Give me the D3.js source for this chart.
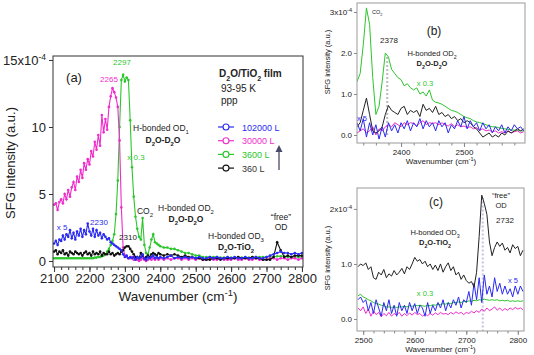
<!DOCTYPE html>
<html>
<head>
<meta charset="utf-8">
<script src="https://d3js.org/d3.v7.min.js"></script>
<style>
body{margin:0;background:#fff;}
svg text{font-family:"Liberation Sans",Arial,sans-serif;}
</style>
</head>
<body>
<svg id="fig"></svg>
<script>

// ---------- data (SFG intensity in units of 1e-4) ----------
var waveA = d3.range(2100, 2400, 5).concat(d3.range(2400, 2801, 10));

var pinkA = [4.2,4.3,3.8,4.4,4.6,4.3,5.0,4.6,5.3,4.8,
  5.5,5.9,5.3,6.3,5.9,6.8,6.2,7.3,6.8,7.6,
  7.2,8.2,7.8,8.9,8.3,9.4,8.6,10.9,9.6,10.6,
  9.8,11.5,12.3,12.9,12.6,12.2,11.5,9.0,4.0,1.0,
  0.4,0.3,0.2,0.2,0.3,0.1,0.2,0.1,0.0,0.1,
  0.2,0.1,0.0,0.1,0.2,0.1,0.2,0.1,0.2,0.1,
  0.2,0.1,0.2,0.1,0.2,0.2,0.1,0.2,0.1,0.2,
  0.1,0.2,0.1,0.1,0.2,0.1,0.1,0.2,0.1,0.1,
  0.1,0.2,0.1,0.1,0.2,0.1,0.1,0.2,0.1,0.1,
  0.1,0.2,0.2,0.1,0.2,0.2,0.1,0.2,0.2,0.1,0.2];

var greenA = [0.2,0.2,0.2,0.2,0.2,0.2,0.2,0.2,0.2,0.2,
  0.2,0.2,0.2,0.2,0.2,0.2,0.2,0.2,0.2,0.2,
  0.2,0.2,0.2,0.25,0.25,0.3,0.3,0.35,0.4,0.5,
  0.7,0.9,1.2,1.5,2.0,3.5,6.0,10.0,13.5,13.9,
  13.4,13.7,13.5,10.5,7.0,4.8,3.3,2.4,1.8,1.6,
  3.2,1.2,0.6,0.5,1.0,1.6,2.0,1.4,1.3,1.2,
  1.1,1.0,1.0,0.9,0.9,0.8,0.7,0.6,0.6,0.5,
  0.4,0.4,0.3,0.3,0.3,0.3,0.3,0.25,0.25,0.25,
  0.25,0.25,0.25,0.25,0.25,0.25,0.25,0.3,0.3,0.3,
  0.3,0.3,0.3,0.35,0.35,0.35,0.3,0.3,0.3,0.3,0.3];

var blueA = [1.3,1.5,1.2,1.6,1.5,1.9,1.6,2.0,1.8,2.3,
  1.7,2.1,1.6,2.2,1.9,2.4,1.8,2.3,2.0,2.8,
  2.2,1.9,2.4,1.8,2.3,1.9,2.1,1.7,2.0,1.8,
  1.6,1.7,1.4,1.3,1.2,1.1,1.0,0.9,0.8,0.5,
  0.3,0.4,0.2,0.3,0.2,0.3,0.1,0.3,0.2,0.3,
  0.5,0.2,0.1,0.3,0.2,0.3,0.4,0.2,0.3,0.2,
  0.3,0.2,0.3,0.4,0.2,0.3,0.2,0.3,0.2,0.3,
  0.2,0.3,0.2,0.2,0.3,0.2,0.3,0.2,0.2,0.3,
  0.2,0.3,0.2,0.2,0.3,0.2,0.2,0.3,0.2,0.2,
  0.3,0.4,0.5,0.6,0.7,0.6,0.6,0.5,0.6,0.5,0.6];

var blackA = [0.7,0.8,0.5,0.7,0.6,0.8,0.5,0.6,0.4,0.7,
  0.6,0.5,0.7,0.6,0.5,0.6,0.4,0.6,0.7,0.5,
  0.6,0.4,0.7,0.5,0.6,0.5,0.7,0.4,0.6,0.5,
  0.5,0.7,0.5,0.6,0.4,0.5,0.6,0.5,0.7,0.8,
  1.0,1.1,1.1,0.9,0.7,0.5,0.3,0.3,0.2,0.6,
  0.4,0.2,0.3,0.4,0.3,0.5,0.6,0.5,0.4,0.6,
  0.5,0.4,0.5,0.4,0.5,0.4,0.3,0.4,0.3,0.3,
  0.2,0.2,0.1,0.1,0.1,0.2,0.2,0.1,0.2,0.2,
  0.2,0.2,0.3,0.2,0.2,0.2,0.3,0.2,0.2,0.1,
  0.1,0.1,0.3,1.4,0.8,0.3,0.4,0.3,0.4,0.4,0.4];

var waveB = d3.range(2330, 2596, 5);
var greenB = [1.3,1.5,2.2,3.1,2.7,1.4,0.5,0.7,1.3,2.0,
  1.9,1.6,1.5,1.4,1.35,1.2,1.25,1.15,1.1,1.15,
  1.0,1.05,0.95,1.1,0.85,0.8,0.78,0.75,0.7,0.65,
  0.6,0.58,0.55,0.5,0.45,0.42,0.4,0.35,0.32,0.3,
  0.28,0.25,0.22,0.2,0.2,0.18,0.16,0.15,0.14,0.12,
  0.12,0.11,0.1,0.1];
var blackB = [0.2,0.3,0.6,0.9,0.5,0.1,0.05,0.1,0.2,0.5,
  0.72,0.6,0.55,0.5,0.65,0.7,0.5,0.6,0.55,0.6,
  0.45,0.75,0.6,0.65,0.55,0.7,0.5,0.55,0.45,0.5,
  0.4,0.45,0.35,0.4,0.3,0.35,0.3,0.2,0.15,0.05,
  -0.05,0.0,0.05,-0.05,0.0,-0.05,0.05,0.0,0.1,0.05,
  0.1,0.15,0.1,0.15];
var pinkB = [0.05,0.1,0.15,0.05,0.1,0.2,0.0,0.15,0.1,0.2,
  0.25,0.2,0.3,0.25,0.2,0.3,0.25,0.3,0.28,0.22,
  0.3,0.35,0.25,0.3,0.28,0.3,0.25,0.3,0.25,0.22,
  0.28,0.2,0.25,0.2,0.22,0.18,0.2,0.15,0.18,0.12,
  0.15,0.1,0.12,0.08,0.1,0.05,0.08,0.05,0.1,0.05,
  0.08,0.1,0.05,0.08];
var blueB = [0.3,0.1,0.4,-0.05,0.3,0.0,0.25,-0.1,0.2,-0.05,
  0.3,0.1,0.25,0.05,0.3,0.15,0.35,0.1,0.3,0.2,
  0.4,0.15,0.35,0.2,0.3,0.1,0.35,0.2,0.3,0.05,
  0.25,0.15,0.35,0.2,0.45,0.15,0.35,0.2,0.3,0.1,
  0.3,0.15,0.25,0.05,0.2,0.1,0.25,0.05,0.2,0.1,
  0.25,0.15,0.2,0.1];

var waveC = d3.range(2490, 2811, 5);
var blackC = [0.95,1.0,0.97,1.02,0.9,0.95,0.75,0.72,0.85,0.8,
  0.9,0.75,0.82,0.78,0.88,0.8,0.85,0.92,0.82,0.95,
  0.9,1.0,1.12,1.05,1.08,1.0,1.05,0.95,1.0,0.9,
  0.98,0.88,1.0,0.85,0.95,1.02,0.88,0.95,0.8,0.85,
  0.72,0.8,0.7,0.65,0.68,0.58,0.85,1.5,2.25,2.1,
  1.9,1.4,1.15,1.3,1.4,1.32,1.38,1.25,1.3,1.2,
  1.35,1.28,1.32,1.15,1.25];
var greenC = [0.42,0.45,0.4,0.38,0.35,0.33,0.3,0.28,0.27,0.25,
  0.24,0.22,0.22,0.21,0.22,0.21,0.22,0.22,0.23,0.22,
  0.24,0.23,0.25,0.24,0.25,0.24,0.23,0.25,0.24,0.26,
  0.25,0.27,0.26,0.28,0.27,0.29,0.28,0.3,0.3,0.31,
  0.3,0.32,0.31,0.33,0.32,0.34,0.33,0.35,0.34,0.36,
  0.35,0.34,0.35,0.34,0.35,0.33,0.34,0.33,0.34,0.32,
  0.33,0.32,0.33,0.32,0.33];
var pinkC = [0.2,0.15,0.22,0.1,0.18,0.05,0.15,0.08,0.12,0.04,
  0.1,0.06,0.12,0.05,0.1,0.07,0.12,0.05,0.1,0.06,
  0.11,0.07,0.12,0.08,0.1,0.05,0.09,0.06,0.1,0.07,
  0.11,0.08,0.12,0.09,0.1,0.08,0.12,0.09,0.13,0.1,
  0.12,0.08,0.12,0.1,0.14,0.11,0.15,0.12,0.18,0.14,
  0.2,0.15,0.18,0.22,0.16,0.2,0.15,0.19,0.16,0.2,
  0.17,0.21,0.18,0.2,0.17];
var blueC = [0.35,0.4,0.3,0.35,0.15,0.3,0.1,0.35,0.2,0.05,
  0.3,0.15,0.35,0.1,0.25,0.05,0.3,0.15,0.25,0.1,
  0.3,0.15,0.28,0.1,0.25,0.2,0.05,0.3,0.1,0.25,
  0.15,0.3,0.2,0.35,0.15,0.3,0.2,0.35,0.25,0.4,
  0.2,0.35,0.3,0.5,0.25,0.65,0.35,0.75,0.3,0.8,
  0.45,0.6,0.4,0.75,0.5,0.65,0.45,0.6,0.45,0.55,
  0.4,0.6,0.45,0.6,0.5];

var legendLabels = ["102000 L", "30000 L", "3600 L", "360 L"];
var colors = {blue:"#2a2af0", pink:"#f02ccc", green:"#2cc62c", black:"#111"};

// ---------- svg ----------
var svg = d3.select("#fig").attr("width", 534).attr("height", 355);

var rich = function(g, x, y, parts, o) {
  var t = g.append("text").attr("x", x).attr("y", y)
    .attr("text-anchor", o.anchor || "start")
    .attr("font-size", o.size)
    .attr("font-weight", o.bold ? "bold" : "normal")
    .attr("fill", o.color || "#222");
  parts.forEach(function(p) {
    var s = t.append("tspan").text(p[0]);
    if (p[1] == "sub") s.attr("baseline-shift", "sub").attr("font-size", o.size * 0.7);
    if (p[1] == "sup") s.attr("baseline-shift", "super").attr("font-size", o.size * 0.7);
  });
  return t;
};

var drawSeries = function(g, wave, vals, x, y, color, width, dots) {
  var pts = wave.map(function(w, i) { return [w, vals[i]]; });
  var line = d3.line().x(function(d) { return x(d[0]); }).y(function(d) { return y(d[1]); });
  g.append("path").datum(pts)
    .attr("fill", "none").attr("stroke", color).attr("stroke-width", width)
    .attr("d", line);
  if (dots) {
    g.selectAll(null).data(pts).enter().append("circle")
      .attr("cx", function(d) { return x(d[0]); })
      .attr("cy", function(d) { return y(d[1]); })
      .attr("r", 1.3).attr("fill", color);
  }
};

var styleAxis = function(a, color, size) {
  a.select(".domain").remove();
  a.selectAll("line").attr("stroke", color);
  a.selectAll("text").attr("fill", "#222").attr("font-size", size)
    .attr("font-family", "Liberation Sans, Arial, sans-serif");
};

// ================= panel (a) =================
var xA = d3.scaleLinear().domain([2097, 2803]).range([53, 303]);
var yA = d3.scaleLinear().domain([-0.45, 15.3]).range([267, 56]);
var pa = svg.append("g");

svg.append("clipPath").attr("id", "clipA").append("rect")
  .attr("x", 53).attr("y", 56).attr("width", 250).attr("height", 211);

var serA = pa.append("g").attr("clip-path", "url(#clipA)");
drawSeries(serA, waveA, greenA, xA, yA, colors.green, 1.1, true);
drawSeries(serA, waveA, pinkA, xA, yA, colors.pink, 1.1, true);
drawSeries(serA, waveA, blackA, xA, yA, colors.black, 1.1, true);
drawSeries(serA, waveA, blueA, xA, yA, colors.blue, 1.1, true);

pa.append("rect").attr("x", 53).attr("y", 56).attr("width", 250).attr("height", 211)
  .attr("fill", "none").attr("stroke", "#333").attr("stroke-width", 1);

var axA = pa.append("g").attr("transform", "translate(0,267)")
  .call(d3.axisBottom(xA).tickValues(d3.range(2100, 2801, 100)).tickSize(5).tickPadding(2).tickFormat(d3.format("d")));
styleAxis(axA, "#333", 13);
var axA2 = pa.append("g").attr("transform", "translate(0,267)")
  .call(d3.axisBottom(xA).tickValues(d3.range(2100, 2801, 20)).tickSize(3).tickFormat(""));
styleAxis(axA2, "#333", 13);

var ayA = pa.append("g").attr("transform", "translate(53,0)")
  .call(d3.axisLeft(yA).tickValues([0, 5, 10, 15]).tickSize(4).tickPadding(3));
styleAxis(ayA, "#333", 13);
ayA.selectAll(".tick text").filter(function(d) { return d == 15; })
  .text("15x10").append("tspan").text("-4").attr("baseline-shift", "super").attr("font-size", 8.5);

rich(pa, 178, 301, [["Wavenumber (cm"], ["-1", "sup"], [")"]], {size: 13.5, anchor: "middle"});
pa.append("text").attr("transform", "translate(15,163) rotate(-90)")
  .attr("text-anchor", "middle").attr("font-size", 13).attr("fill", "#222")
  .text("SFG intensity (a.u.)");

// annotations
rich(pa, 74, 82, [["(a)"]], {size: 13, anchor: "middle"});
rich(pa, 122, 65, [["2297"]], {size: 8, anchor: "middle", color: colors.green});
rich(pa, 109, 82, [["2265"]], {size: 8, anchor: "middle", color: colors.pink});
rich(pa, 161, 131, [["H-bonded OD"], ["1", "sub"]], {size: 8.5, anchor: "middle"});
rich(pa, 163, 143, [["D"], ["2", "sub"], ["O-D"], ["2", "sub"], ["O"]], {size: 8.5, anchor: "middle", bold: true});
rich(pa, 136, 160, [["x 0.3"]], {size: 8, anchor: "middle", color: colors.green});
rich(pa, 62, 230, [["x 5"]], {size: 8, anchor: "middle", color: colors.blue});
rich(pa, 99, 225, [["2230"]], {size: 8, anchor: "middle", color: colors.blue});
rich(pa, 128, 240, [["2310"]], {size: 8, anchor: "middle"});
rich(pa, 145, 214, [["CO"], ["2", "sub"]], {size: 8.5, anchor: "middle"});
rich(pa, 186, 211, [["H-bonded OD"], ["2", "sub"]], {size: 8.5, anchor: "middle"});
rich(pa, 186, 222, [["D"], ["2", "sub"], ["O-D"], ["2", "sub"], ["O"]], {size: 8.5, anchor: "middle", bold: true});
rich(pa, 236, 239, [["H-bonded OD"], ["3", "sub"]], {size: 8.5, anchor: "middle"});
rich(pa, 236, 250, [["D"], ["2", "sub"], ["O-TiO"], ["2", "sub"]], {size: 8.5, anchor: "middle", bold: true});
rich(pa, 281, 220, [["\u201Cfree\u201D"]], {size: 8.5, anchor: "middle"});
rich(pa, 281, 230, [["OD"]], {size: 8.5, anchor: "middle"});

// legend block
rich(pa, 219, 77, [["D"], ["2", "sub"], ["O/TiO"], ["2", "sub"], [" film"]], {size: 10, bold: true});
rich(pa, 221, 92, [["93-95 K"]], {size: 10});
rich(pa, 221, 104, [["ppp"]], {size: 10});

var legColors = [colors.blue, colors.pink, colors.green, colors.black];
var lg = pa.append("g").selectAll("g").data(legendLabels).enter().append("g")
  .attr("transform", function(d, i) { return "translate(0," + (127 + i * 13.7) + ")"; });
lg.append("line").attr("x1", 218).attr("x2", 234).attr("y1", 0).attr("y2", 0)
  .attr("stroke", function(d, i) { return legColors[i]; }).attr("stroke-width", 1.2);
lg.append("circle").attr("cx", 226).attr("cy", 0).attr("r", 3)
  .attr("fill", "#fff").attr("stroke", function(d, i) { return legColors[i]; }).attr("stroke-width", 1.1);
lg.append("text").attr("x", 242).attr("y", 3.5).attr("font-size", 9)
  .attr("fill", function(d, i) { return i == 3 ? "#333" : legColors[i]; }).text(function(d) { return d; });

pa.append("line").attr("x1", 279).attr("x2", 279).attr("y1", 170).attr("y2", 151)
  .attr("stroke", "#4a4a6a").attr("stroke-width", 1.3);
pa.append("path").attr("d", "M275.5,152 L279,145 L282.5,152 Z").attr("fill", "#4a4a6a");

// ================= panels (b) and (c) =================
var smallPanel = function(cfg) {
  var g = svg.append("g");
  var id = "clip" + cfg.name;
  svg.append("clipPath").attr("id", id).append("rect")
    .attr("x", cfg.x.range()[0]).attr("y", cfg.y.range()[1])
    .attr("width", cfg.x.range()[1] - cfg.x.range()[0])
    .attr("height", cfg.y.range()[0] - cfg.y.range()[1]);
  var s = g.append("g").attr("clip-path", "url(#" + id + ")");
  cfg.draw(s);
  g.append("rect").attr("x", cfg.x.range()[0]).attr("y", cfg.y.range()[1])
    .attr("width", cfg.x.range()[1] - cfg.x.range()[0])
    .attr("height", cfg.y.range()[0] - cfg.y.range()[1])
    .attr("fill", "none").attr("stroke", "#999").attr("stroke-width", 1);
  var b = cfg.y.range()[0];
  var ax = g.append("g").attr("transform", "translate(0," + b + ")")
    .call(d3.axisBottom(cfg.x).tickValues(cfg.major).tickSize(4).tickPadding(2).tickFormat(d3.format("d")));
  styleAxis(ax, "#888", 8);
  var ax2 = g.append("g").attr("transform", "translate(0," + b + ")")
    .call(d3.axisBottom(cfg.x).tickValues(cfg.minor).tickSize(2.5).tickFormat(""));
  styleAxis(ax2, "#888", 8);
  var l = cfg.x.range()[0];
  var ay = g.append("g").attr("transform", "translate(" + l + ",0)")
    .call(d3.axisLeft(cfg.y).tickValues(cfg.yticks).tickSize(3).tickPadding(2));
  styleAxis(ay, "#888", 8);
  ay.selectAll(".tick text").filter(function(d) { return d == cfg.yticks[cfg.yticks.length - 1]; })
    .text(cfg.yticks[cfg.yticks.length - 1] + "x10").append("tspan").text("-4")
    .attr("baseline-shift", "super").attr("font-size", 5.5);
  var cx = (cfg.x.range()[0] + cfg.x.range()[1]) / 2;
  rich(g, cx, b + 21, [["Wavenumber (cm"], ["-1", "sup"], [")"]], {size: 8, anchor: "middle"});
  g.append("text").attr("transform", "translate(" + cfg.ytx + "," + cfg.yty + ") rotate(-90)")
    .attr("text-anchor", "middle").attr("font-size", 7.5).attr("fill", "#222")
    .text("SFG intensity (a.u.)");
  return g;
};

var xB = d3.scaleLinear().domain([2330, 2597]).range([357, 525]);
var yB = d3.scaleLinear().domain([-0.195, 3.22]).range([143, 3]);
var pb = smallPanel({
  name: "B", x: xB, y: yB, major: [2400, 2500], minor: d3.range(2340, 2597, 20),
  yticks: [0, 1, 2, 3], ytx: 330, yty: 62,
  draw: function(s) {
    s.append("line").attr("x1", xB(2378)).attr("x2", xB(2378)).attr("y1", yB(0)).attr("y2", yB(1.95))
      .attr("stroke", "#bbb").attr("stroke-width", 2).attr("stroke-dasharray", "2,2");
    drawSeries(s, waveB, greenB, xB, yB, colors.green, 1, false);
    drawSeries(s, waveB, pinkB, xB, yB, colors.pink, 1, false);
    drawSeries(s, waveB, blackB, xB, yB, "#222", 1, false);
    drawSeries(s, waveB, blueB, xB, yB, colors.blue, 1, false);
  }
});
rich(pb, 434, 35, [["(b)"]], {size: 12, anchor: "middle"});
rich(pb, 372, 14, [["CO"], ["2", "sub"]], {size: 5.5});
rich(pb, 389, 43, [["2378"]], {size: 8, anchor: "middle"});
rich(pb, 432, 56, [["H-bonded OD"], ["2", "sub"]], {size: 7.5, anchor: "middle"});
rich(pb, 432, 66, [["D"], ["2", "sub"], ["O-D"], ["2", "sub"], ["O"]], {size: 7.5, anchor: "middle", bold: true});
rich(pb, 425, 86, [["x 0.3"]], {size: 7.5, anchor: "middle", color: colors.green});
rich(pb, 357, 121, [["x 5"]], {size: 7.5, color: colors.blue});

var xC = d3.scaleLinear().domain([2488, 2812]).range([357, 524]);
var yC = d3.scaleLinear().domain([-0.218, 2.38]).range([331, 188]);
var pc = smallPanel({
  name: "C", x: xC, y: yC, major: [2500, 2600, 2700, 2800], minor: d3.range(2500, 2801, 20),
  yticks: [0, 1, 2], ytx: 330, yty: 258,
  draw: function(s) {
    s.append("line").attr("x1", xC(2732)).attr("x2", xC(2732)).attr("y1", yC(-0.3)).attr("y2", yC(2.2))
      .attr("stroke", "#c4c4e4").attr("stroke-width", 2).attr("stroke-dasharray", "2,2");
    drawSeries(s, waveC, greenC, xC, yC, colors.green, 1, false);
    drawSeries(s, waveC, pinkC, xC, yC, colors.pink, 1, false);
    drawSeries(s, waveC, blueC, xC, yC, colors.blue, 1, false);
    drawSeries(s, waveC, blackC, xC, yC, "#222", 1, false);
  }
});
rich(pc, 436, 206, [["(c)"]], {size: 12, anchor: "middle"});
rich(pc, 501, 198, [["\u201Cfree\u201D"]], {size: 7.5, anchor: "middle"});
rich(pc, 501, 208, [["OD"]], {size: 7.5, anchor: "middle"});
rich(pc, 505, 223, [["2732"]], {size: 8, anchor: "middle"});
rich(pc, 435, 235, [["H-bonded OD"], ["3", "sub"]], {size: 7.5, anchor: "middle"});
rich(pc, 435, 245, [["D"], ["2", "sub"], ["O-TiO"], ["2", "sub"]], {size: 7.5, anchor: "middle", bold: true});
rich(pc, 425, 296, [["x 0.3"]], {size: 7.5, anchor: "middle", color: colors.green});
rich(pc, 508, 283, [["x 5"]], {size: 7.5, color: colors.blue});

</script>
</body>
</html>
